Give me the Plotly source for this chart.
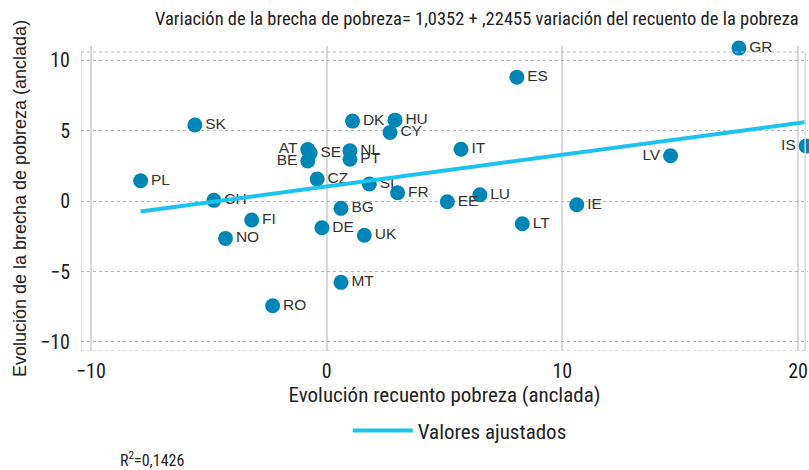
import plotly.graph_objects as go

countries = ["GR", "ES", "SK", "DK", "HU", "CY", "AT", "SE", "BE", "NL", "PT", "CZ", "SI", "FR",
             "BG", "EE", "LU", "IT", "LT", "IE", "LV", "IS", "PL", "CH", "FI", "NO", "DE", "UK",
             "MT", "RO"]
recuento = [17.49, 8.07, -5.59, 1.10, 2.90, 2.69, -0.80, -0.70, -0.80, 0.99, 0.99, -0.40, 1.81, 3.01,
            0.61, 5.12, 6.50, 5.70, 8.30, 10.61, 14.59, 20.34, -7.89, -4.78, -3.18, -4.29, -0.20, 1.60,
            0.61, -2.29]
brecha = [10.85, 8.79, 5.39, 5.67, 5.74, 4.87, 3.65, 3.40, 2.84, 3.57, 2.96, 1.56, 1.21, 0.59,
          -0.52, -0.05, 0.45, 3.67, -1.61, -0.26, 3.21, 3.90, 1.44, 0.05, -1.35, -2.65, -1.89, -2.43,
          -5.77, -7.43]
label_side = ["r", "r", "r", "r", "r", "r", "l", "r", "l", "r", "r", "r", "r", "r",
              "r", "r", "r", "r", "r", "r", "l", "l", "r", "r", "r", "r", "r", "r",
              "r", "r"]
intercept = 1.0352
slope = 0.22455
x_ticks = [-10, 0, 10, 20]
y_ticks = [-10, -5, 0, 5, 10]

# frame of the plotted region (data units)
x_lo, x_hi = -10.42, 20.30
y_lo, y_hi = -10.64, 10.57

fit_x = [min(recuento), max(recuento)]
fit_y = [intercept + slope * v for v in fit_x]

narrow = "Liberation Sans Narrow, Roboto Condensed, Arial Narrow, Roboto, sans-serif"
regular = "Liberation Sans, Arial, sans-serif"

fig = go.Figure()
fig.add_trace(go.Scatter(
    x=recuento, y=brecha, mode="markers+text", text=countries,
    textposition=["middle right" if s == "r" else "middle left" for s in label_side],
    textfont=dict(family=regular, size=15.5, color="#333333"),
    marker=dict(size=15, color="#0086b6"),
    showlegend=False, cliponaxis=False, hoverinfo="skip"))
fig.add_trace(go.Scatter(
    x=fit_x, y=fit_y, mode="lines", name="Valores ajustados",
    line=dict(color="#1dc3ef", width=4), cliponaxis=False, hoverinfo="skip"))

frame_solid = dict(color="#d9d9d9", width=1.5)
frame_dot = dict(color="#b8b8b8", width=1, dash="dot")

fig.update_layout(
    width=809, height=470,
    margin=dict(l=81, r=1, t=46, b=119),
    plot_bgcolor="white", paper_bgcolor="white",
    font=dict(family=narrow, size=20, color="#222222"),
    xaxis=dict(range=[x_lo, 20.42], tickvals=x_ticks, showgrid=True, gridcolor="#d9d9d9",
               gridwidth=1.5, zeroline=False, showline=False, ticks="",
               ticklabelstandoff=6, tickfont=dict(size=20),
               title=dict(text="Evolución recuento pobreza (anclada)", standoff=2,
                          font=dict(family=narrow, size=21))),
    yaxis=dict(range=[y_lo, 11.0], tickvals=y_ticks, showgrid=True, gridcolor="#b8b8b8",
               griddash="dot", gridwidth=1, zeroline=False, showline=False, ticks="",
               ticklabelstandoff=10, tickfont=dict(size=20),
               title=dict(text="Evolución de la brecha de pobreza (anclada)", standoff=8,
                          font=dict(family=regular, size=18))),
    legend=dict(orientation="h", x=0.521, xanchor="center", y=-0.262, yanchor="middle",
                itemwidth=60, font=dict(family=narrow, size=21)),
    shapes=[
        dict(type="line", xref="x", yref="y", x0=x_lo, x1=x_lo, y0=y_lo, y1=y_hi, line=frame_solid),
        dict(type="line", xref="x", yref="y", x0=x_hi, x1=x_hi, y0=y_lo, y1=y_hi, line=frame_solid),
        dict(type="line", xref="x", yref="y", x0=x_lo, x1=x_hi, y0=y_hi, y1=y_hi, line=frame_dot),
        dict(type="line", xref="x", yref="y", x0=x_lo, x1=x_hi, y0=y_lo, y1=y_lo, line=frame_dot),
    ],
    annotations=[
        dict(text="Variación de la brecha de pobreza= 1,0352 + ,22455 variación del recuento de la pobreza",
             xref="paper", yref="paper", x=0.99, y=1, xanchor="right", yanchor="bottom", yshift=14,
             showarrow=False, font=dict(family=narrow, size=18.5, color="#222222")),
        dict(text="R<sup>2</sup>=0,1426", xref="paper", yref="paper", x=0.051, y=0,
             xanchor="left", yanchor="middle", yshift=-108, showarrow=False,
             font=dict(family=narrow, size=16, color="#222222")),
    ],
)

fig.write_html("out.html", config={"displayModeBar": False},
               post_script="document.body.style.margin='0';document.body.style.overflow='hidden';")
